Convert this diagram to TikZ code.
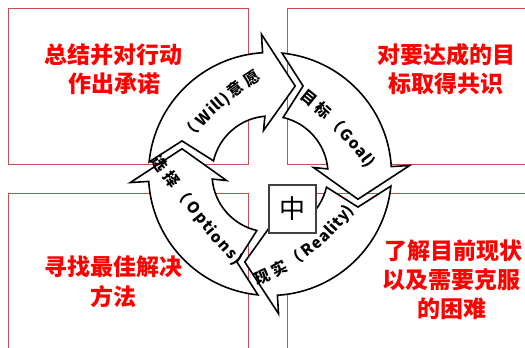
\documentclass[tikz,border=0pt]{standalone}
\usepackage{fontspec}
\setmainfont{Noto Sans CJK SC}
\definecolor{boxred}{RGB}{200,80,80}
\definecolor{txtred}{RGB}{255,0,0}
\definecolor{zhonggray}{RGB}{64,64,64}
\newcommand{\redfont}{\fontsize{23}{23}\selectfont\bfseries}
\newcommand{\lblfont}{\fontsize{15.5}{15.5}\selectfont\bfseries}
\tikzset{
  quadbox/.style={draw=boxred, line width=1pt},
  redtxt/.style={text=txtred, font=\redfont, inner sep=0pt, text height=20.2pt, text depth=2.8pt, anchor=center},
  cyclearrow/.style={draw=black, fill=white, line width=1.6pt, line join=miter},
  lbl/.style={font=\lblfont, text=black, inner sep=0pt, text height=13.6pt, text depth=1.9pt, anchor=center},
  zhongbox/.style={draw=zhonggray, fill=white, line width=1.5pt, minimum width=47pt, minimum height=48pt, inner sep=0pt, font=\fontsize{26}{26}\selectfont},
}
\begin{document}
\begin{tikzpicture}[x=1pt,y=1pt]
\useasboundingbox (0,0) rectangle (525,348);
% quadrant boxes
\draw[quadbox] (8,339) rectangle (248,183);
\draw[quadbox] (287,339) rectangle (535,183);
\draw[quadbox] (8,154) rectangle (248,-10);
\draw[quadbox] (287,154) rectangle (535,-10);
% red texts
\node[redtxt] (tl1) at (113,293) {总结并对行动};
\node[redtxt] (tl2) at (114,264) {作出承诺};
\node[redtxt] (tr1) at (446,293) {对要达成的目};
\node[redtxt] (tr2) at (446,264) {标取得共识};
\node[redtxt] (bl1) at (113,80.7) {寻找最佳解决};
\node[redtxt] (bl2) at (113.5,50.7) {方法};
\node[redtxt] (br1) at (453,97.3) {了解目前现状};
\node[redtxt] (br2) at (451,68.2) {以及需要克服};
\node[redtxt] (br3) at (452,39) {的困难};
% cycle arrows
\foreach \r in {0,-90,-180,90}{
  \begin{scope}[shift={(270,174)}, rotate=\r]
    \draw[cyclearrow] (174.3:121.5) arc[start angle=174.3, end angle=93.5, radius=121.5]
      -- (93.5:140) -- (74:91.5) -- (98.5:44) -- (95:58)
      arc[start angle=95, end angle=166.9, radius=58]
      -- (159.4:94) -- cycle;
  \end{scope}
}
% labels along arrows, one glyph per node
\foreach \ch/\px/\py/\rt [count=\i] in {（/190/216/49.3, W/203.0/230.1/45.2, i/211.5/238.5/42.8, l/215.6/242.2/41.8, l/220.0/246.1/40.8, )/224.9/250.2/39.5, 意/235.6/258.6/36.8, 愿/252/270/32.7}
  {\node[lbl, rotate=\rt] (will\i) at (\px,\py) {\ch};}
\foreach \ch/\px/\py/\rt [count=\i] in {目/309/250/-39.1, 标/323.1/237.8/-42.3, （/336.5/225.0/-45.5, G/347.1/213.6/-48.2, o/354.9/204.6/-50.2, a/361.6/196.2/-52.1, l/366.4/189.9/-53.4, )/370/185/-54.5}
  {\node[lbl, rotate=\rt] (goal\i) at (\px,\py) {\ch};}
\foreach \ch/\px/\py/\rt [count=\i] in {现/262/71/24.0, 实/279.0/79.4/28.9, （/295.0/89.1/33.7, R/307.4/98.0/37.6, e/316.0/104.9/40.5, a/323.7/111.9/43.3, l/329.4/117.5/45.3, i/333.0/121.2/46.6, t/337.1/125.7/48.1, y/342.8/132.4/50.3, )/348/139/52.6}
  {\node[lbl, rotate=\rt] (real\i) at (\px,\py) {\ch};}
\foreach \ch/\px/\py/\rt [count=\i] in {选/160/185/-54.9, 择/171.4/169.1/-53.7, （/183.2/153.4/-52.6, O/193.6/140.1/-51.6, p/201.8/129.9/-50.8, t/207.9/122.4/-50.2, i/212.0/117.6/-49.8, o/217.6/111.0/-49.3, n/225.3/102.1/-48.6, s/232.5/94.1/-47.9, )/238/88/-47.5}
  {\node[lbl, rotate=\rt] (opt\i) at (\px,\py) {\ch};}
% center box
\node[zhongbox] (zhong) at (292.5,139) {中};
\end{tikzpicture}
\end{document}
